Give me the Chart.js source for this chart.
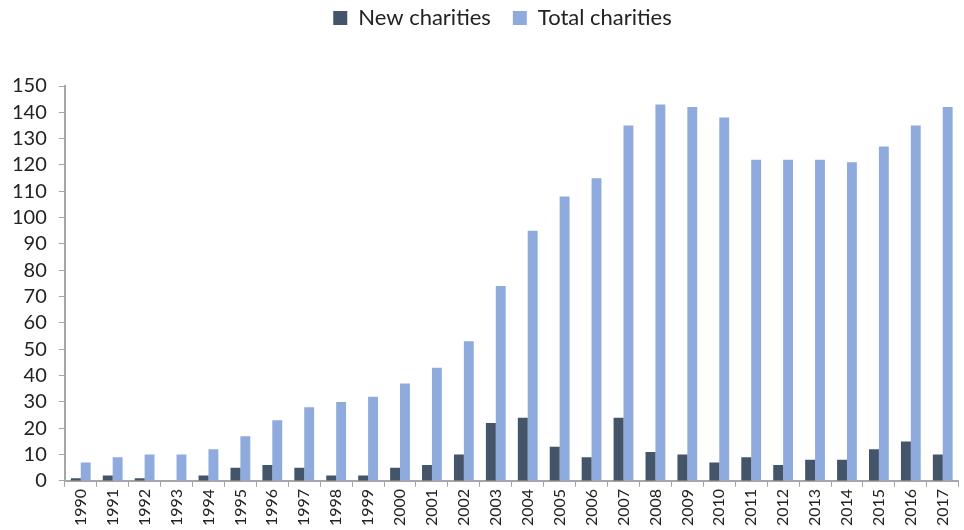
<!DOCTYPE html>
<html>
<head>
<meta charset="utf-8">
<script src="https://cdn.jsdelivr.net/npm/chart.js@4/dist/chart.umd.min.js"></script>
<style>
  html, body { margin: 0; padding: 0; background: #fff; }
  #wrap { width: 964px; height: 530px; }
</style>
</head>
<body>
<div id="wrap"><canvas id="chart"></canvas></div>
<script>
const years = ['1990','1991','1992','1993','1994','1995','1996','1997','1998','1999',
  '2000','2001','2002','2003','2004','2005','2006','2007','2008','2009',
  '2010','2011','2012','2013','2014','2015','2016','2017'];
const newCharities = [1, 2, 1, 0, 2, 5, 6, 5, 2, 2, 5, 6, 10, 22, 24, 13, 9, 24, 11, 10, 7, 9, 6, 8, 8, 12, 15, 10];
const totalCharities = [7, 9, 10, 10, 12, 17, 23, 28, 30, 32, 37, 43, 53, 74, 95, 108, 115, 135, 143, 142, 138, 122, 122, 122, 121, 127, 135, 142];
const yTicks = [0, 10, 20, 30, 40, 50, 60, 70, 80, 90, 100, 110, 120, 130, 140, 150];

// push the plot area down below the legend, and centre the legend over the plot
const legendSpace = {
    id: 'legendSpace',
    beforeInit(chart) {
        const fit = chart.legend.fit;
        chart.legend.fit = function () {
            fit.bind(chart.legend)();
            this.height += 47;
        };
    },
    afterLayout(chart) {
        chart.legend.left += 22;
        chart.legend.right += 22;
    }
};

const ctx = document.getElementById('chart').getContext('2d');
new Chart(ctx, {
    type: 'bar',
    data: {
        labels: years,
        datasets: [{
            label: 'New charities',
            data: newCharities,
            backgroundColor: '#44546A'
        }, {
            label: 'Total charities',
            data: totalCharities,
            backgroundColor: '#8FAADC'
        }]
    },
    options: {
        responsive: true,
        maintainAspectRatio: false,
        animation: false,
        datasets: {
            bar: { categoryPercentage: 0.62, barPercentage: 1 }
        },
        layout: { padding: { left: 0, right: 3, top: -15, bottom: 2 } },
        plugins: {
            legend: {
                position: 'top',
                labels: {
                    boxWidth: 14,
                    boxHeight: 14,
                    padding: 22,
                    color: '#222',
                    font: { family: 'Lato', size: 22 }
                }
            },
            tooltip: { enabled: false }
        },
        scales: {
            x: {
                grid: {
                    display: true,
                    drawOnChartArea: false,
                    drawTicks: true,
                    tickLength: 6,
                    color: '#A6A6A6'
                },
                border: { color: '#A6A6A6', width: 2 },
                ticks: {
                    minRotation: 90,
                    maxRotation: 90,
                    autoSkip: false,
                    padding: 2,
                    color: '#222',
                    font: { family: 'Lato', size: 16 }
                }
            },
            y: {
                min: 0,
                max: 150,
                afterBuildTicks(axis) {
                    axis.ticks = yTicks.map(v => ({ value: v }));
                },
                grid: {
                    display: true,
                    drawOnChartArea: false,
                    drawTicks: true,
                    tickLength: 6,
                    color: '#A6A6A6'
                },
                border: { color: '#A6A6A6', width: 2 },
                ticks: {
                    autoSkip: false,
                    padding: 12,
                    color: '#222',
                    font: { family: 'Lato', size: 20 }
                }
            }
        }
    },
    plugins: [legendSpace]
});
</script>
</body>
</html>
